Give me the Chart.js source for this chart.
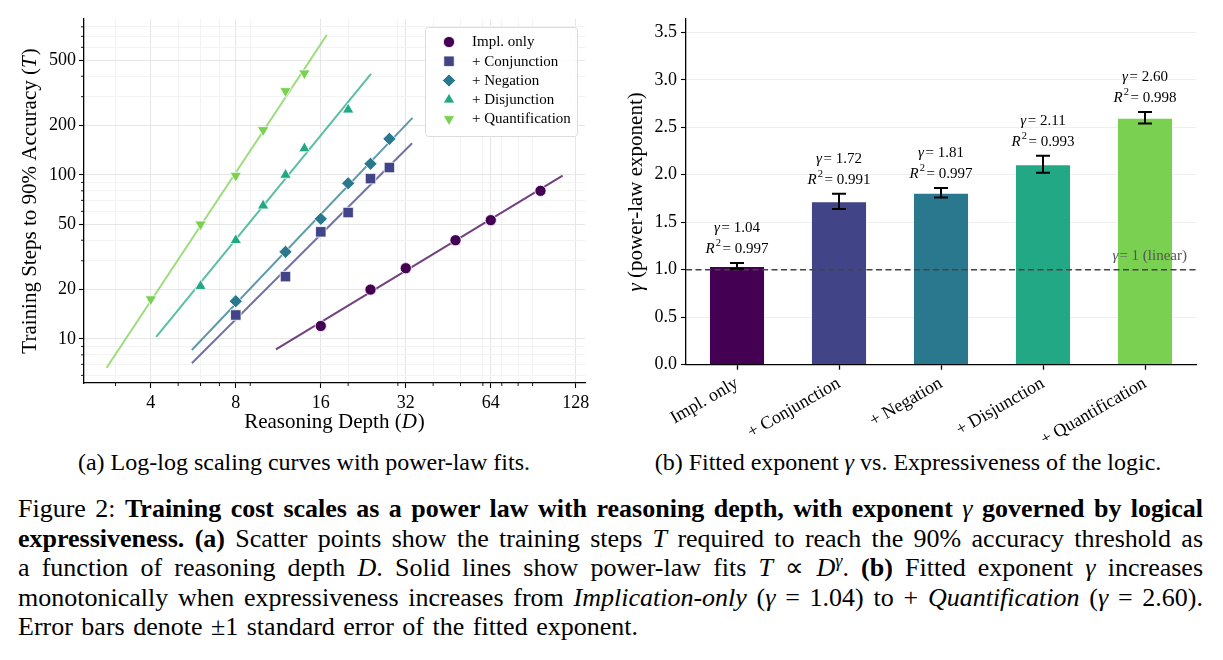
<!DOCTYPE html>
<html><head><meta charset="utf-8">
<script src="https://cdn.jsdelivr.net/npm/chart.js@4.4.1/dist/chart.umd.min.js"></script>
<style>
html,body{margin:0;padding:0;background:#fff;}
body{width:1223px;height:660px;position:relative;overflow:hidden;font-family:"Liberation Serif","Times New Roman",serif;color:#000;}
#cA{position:absolute;left:0;top:0;}
#cB{position:absolute;left:600px;top:0;}
.sub{position:absolute;top:449px;font-family:"Liberation Serif",serif;font-size:24px;line-height:26px;text-align:center;white-space:nowrap;}
.cap{position:absolute;left:18px;width:1185px;top:494px;font-family:"Liberation Serif",serif;font-size:26px;line-height:29.6px;}
.cap div{white-space:nowrap;}
.cap sup{font-size:0.7em;line-height:0;vertical-align:0.5em;}
.nb{font-weight:normal;}
</style>
</head><body>
<canvas id="cA" width="600" height="440"></canvas>
<canvas id="cB" width="623" height="440"></canvas>
<div class="sub" style="left:4px;width:600px;">(a) Log-log scaling curves with power-law fits.</div>
<div class="sub" style="left:608px;width:600px;">(b) Fitted exponent <i>γ</i> vs. Expressiveness of the logic.</div>
<div class="cap">
<div class="j">Figure 2: <b>Training cost scales as a power law with reasoning depth, with exponent <i class="nb">γ</i> governed by logical</b></div>
<div class="j"><b>expressiveness. (a)</b> Scatter points show the training steps <i>T</i> required to reach the 90% accuracy threshold as</div>
<div class="j">a function of reasoning depth <i>D</i>. Solid lines show power-law fits <i>T</i> ∝ <i>D</i><sup><i>γ</i></sup>. <b>(b)</b> Fitted exponent <i>γ</i> increases</div>
<div class="j">monotonically when expressiveness increases from <i>Implication-only</i> (<i>γ</i> = 1.04) to + <i>Quantification</i> (<i>γ</i> = 2.60).</div>
<div class="last" style="word-spacing:2px;">Error bars denote ±1 standard error of the fitted exponent.</div>
</div>
<script>
// justify caption lines to the full text width
(function(){
  const W = 1185;
  document.querySelectorAll('.cap .j').forEach(el => {
    el.style.display = 'inline-block';
    const w = el.getBoundingClientRect().width;
    const n = (el.textContent.match(/ /g) || []).length;
    if (n > 0) el.style.wordSpacing = ((W - w) / n) + 'px';
    el.style.display = 'block';
  });
})();

const FONT = '"Liberation Serif", "Times New Roman", serif';

// ---------- Panel (a) data ----------
const seriesNames = ['Impl. only', '+ Conjunction', '+ Negation', '+ Disjunction', '+ Quantification'];
const depthImpl  = [16, 24, 32, 48, 64, 96];
const stepsImpl  = [12, 20, 27, 40, 53, 80];
const depthConj  = [8, 12, 16, 20, 24, 28];
const stepsConj  = [14, 24, 45, 59, 95, 111];
const depthNeg   = [8, 12, 16, 20, 24, 28];
const stepsNeg   = [17, 34, 54, 89, 117, 166];
const depthDisj  = [6, 8, 10, 12, 14, 20];
const stepsDisj  = [21, 40, 65, 100, 145, 250];
const depthQuant = [4, 6, 8, 10, 12, 14];
const stepsQuant = [17.5, 50, 99, 188, 325, 417];
// power-law fit line end points [depth, steps]
const fitImpl  = [[11.1, 8.65], [115, 99]];
const fitConj  = [[5.59, 7.11], [33.7, 156]];
const fitNeg   = [[5.59, 8.57], [33.8, 223]];
const fitDisj  = [[4.18, 10.3], [24.1, 413]];
const fitQuant = [[2.79, 6.68], [16.8, 714]];
const depthTickLabels = [4, 8, 16, 32, 64, 128];
const depthMinorTicks = [3, 5, 6, 7, 9, 20, 30, 40, 50, 60, 70, 80, 90];
const stepTickLabels = [10, 20, 50, 100, 200, 500];
const stepMinorTicks = [6, 7, 8, 9, 30, 40, 60, 70, 80, 90, 300, 400, 600, 700, 800];

// ---------- Panel (b) data ----------
const categories = ['Impl. only', '+ Conjunction', '+ Negation', '+ Disjunction', '+ Quantification'];
const gammas   = [1.04, 1.72, 1.81, 2.11, 2.60];
const gammaErr = [0.03, 0.08, 0.05, 0.09, 0.06];
const r2Values = [0.997, 0.991, 0.997, 0.993, 0.998];
const gammaTickLabels = [0, 0.5, 1.0, 1.5, 2.0, 2.5, 3.0, 3.5];
const linearRef = 1;

// ---------- styles ----------
const colors = ['#440154', '#414487', '#2a788e', '#22a884', '#7ad151'];
const markers = [
  {pointStyle: 'circle', radius: 5.6, rotation: 0},
  {pointStyle: 'rect', radius: 7.4, rotation: 0},
  {pointStyle: 'rectRot', radius: 6.6, rotation: 0},
  {pointStyle: 'triangle', radius: 6.6, rotation: 0},
  {pointStyle: 'triangle', radius: 6.6, rotation: 180}
];
function hexA(h, a) {
  const r = parseInt(h.slice(1,3),16), g = parseInt(h.slice(3,5),16), b = parseInt(h.slice(5,7),16);
  return `rgba(${r},${g},${b},${a})`;
}
function richWidth(ctx, parts) {
  let w = 0;
  for (const p of parts) { ctx.font = p.f; w += ctx.measureText(p.t).width + (p.dx || 0); }
  return w;
}
function drawRich(ctx, parts, x, y, rot, align, color) {
  ctx.save();
  ctx.translate(x, y);
  if (rot) ctx.rotate(rot);
  const w = richWidth(ctx, parts);
  let cx = align === 'right' ? -w : (align === 'left' ? 0 : -w / 2);
  ctx.textBaseline = 'middle';
  ctx.textAlign = 'left';
  ctx.fillStyle = color || '#000';
  for (const p of parts) {
    ctx.font = p.f;
    ctx.fillText(p.t, cx, p.dy || 0);
    cx += ctx.measureText(p.t).width + (p.dx || 0);
  }
  ctx.restore();
}

// ---------- Panel (a) ----------
const depthSets = [depthImpl, depthConj, depthNeg, depthDisj, depthQuant];
const stepSets = [stepsImpl, stepsConj, stepsNeg, stepsDisj, stepsQuant];
const fitSets = [fitImpl, fitConj, fitNeg, fitDisj, fitQuant];

const datasetsA = [];
seriesNames.forEach((name, i) => {
  datasetsA.push({
    label: name,
    data: depthSets[i].map((d, k) => ({x: d, y: stepSets[i][k]})),
    backgroundColor: colors[i],
    borderColor: '#ffffff',
    borderWidth: 0.8,
    pointStyle: markers[i].pointStyle,
    pointRadius: markers[i].radius,
    rotation: markers[i].rotation,
    showLine: false,
    order: 0
  });
});
seriesNames.forEach((name, i) => {
  datasetsA.push({
    label: name + ' fit',
    data: fitSets[i].map(p => ({x: p[0], y: p[1]})),
    showLine: true,
    borderColor: hexA(colors[i], 0.75),
    borderWidth: 2,
    pointRadius: 0,
    fill: false,
    order: 1
  });
});

const decorA = {
  id: 'decorA',
  afterDraw(chart) {
    const ctx = chart.ctx, xs = chart.scales.x, ys = chart.scales.y, ca = chart.chartArea;
    ctx.save();
    ctx.strokeStyle = '#000'; ctx.lineWidth = 0.9;
    depthMinorTicks.forEach(v => {
      const px = xs.getPixelForValue(v);
      if (px < ca.left || px > ca.right) return;
      ctx.beginPath(); ctx.moveTo(px, ca.bottom); ctx.lineTo(px, ca.bottom + 3); ctx.stroke();
    });
    stepMinorTicks.forEach(v => {
      const py = ys.getPixelForValue(v);
      if (py < ca.top || py > ca.bottom) return;
      ctx.beginPath(); ctx.moveTo(ca.left - 3, py); ctx.lineTo(ca.left, py); ctx.stroke();
    });
    // legend
    const bx = ca.right - 160, by = ca.top + 8, bw = 152, bh = 109;
    ctx.fillStyle = 'rgba(255,255,255,0.85)';
    ctx.strokeStyle = '#dcdcdc'; ctx.lineWidth = 1;
    ctx.beginPath();
    if (ctx.roundRect) ctx.roundRect(bx + 0.5, by + 0.5, bw, bh, 3); else ctx.rect(bx + 0.5, by + 0.5, bw, bh);
    ctx.fill(); ctx.stroke();
    seriesNames.forEach((name, i) => {
      const yy = by + 15 + i * 19.25;
      ctx.fillStyle = colors[i]; ctx.strokeStyle = '#fff'; ctx.lineWidth = 0.8;
      Chart.helpers.drawPoint(ctx, {pointStyle: markers[i].pointStyle, radius: markers[i].radius, rotation: markers[i].rotation, borderWidth: 0.8}, bx + 24, yy);
      ctx.fillStyle = '#000'; ctx.font = '15px ' + FONT; ctx.textAlign = 'left'; ctx.textBaseline = 'middle';
      ctx.fillText(name, bx + 47, yy + 0.5);
    });
    ctx.restore();
    drawRich(ctx, [{t: 'Reasoning Depth (', f: '21px ' + FONT}, {t: 'D', f: 'italic 21px ' + FONT, dx: 1}, {t: ')', f: '21px ' + FONT}],
      (ca.left + ca.right) / 2, 422, 0, 'center');
    drawRich(ctx, [{t: 'Training Steps to 90% Accuracy (', f: '21px ' + FONT}, {t: 'T', f: 'italic 21px ' + FONT, dx: 1}, {t: ')', f: '21px ' + FONT}],
      30, (ca.top + ca.bottom) / 2, -Math.PI / 2, 'center');
  }
};

new Chart(document.getElementById('cA'), {
  type: 'scatter',
  data: {datasets: datasetsA},
  options: {
    responsive: false, animation: false,
    layout: {padding: {left: 0, top: 19, right: 15, bottom: 0}},
    plugins: {legend: {display: false}, tooltip: {enabled: false}},
    scales: {
      x: {
        type: 'logarithmic', min: 2.32, max: 138, position: 'bottom',
        afterBuildTicks: s => { s.ticks = depthTickLabels.concat(depthMinorTicks).sort((a, b) => a - b).map(v => ({value: v})); },
        afterFit: s => { s.height = 57; },
        ticks: {autoSkip: false, maxRotation: 0, minRotation: 0, padding: 4, color: '#000',
          font: {family: FONT, size: 18},
          callback: v => depthTickLabels.includes(v) ? String(v) : ''},
        grid: {
          color: c => (c.tick && depthTickLabels.includes(c.tick.value)) ? '#e6e6e6' : '#f3f3f3',
          lineWidth: 1, tickLength: 5,
          tickColor: c => (c.tick && depthTickLabels.includes(c.tick.value)) ? '#000' : 'rgba(0,0,0,0)',
          tickWidth: 1.1
        },
        border: {color: '#000', width: 1.3}
      },
      y: {
        type: 'logarithmic', min: 5.39, max: 893, position: 'left',
        afterBuildTicks: s => { s.ticks = stepTickLabels.concat(stepMinorTicks).sort((a, b) => a - b).map(v => ({value: v})); },
        afterFit: s => { s.width = 84; },
        ticks: {autoSkip: false, padding: 3, color: '#000',
          font: {family: FONT, size: 18},
          callback: v => stepTickLabels.includes(v) ? String(v) : ''},
        grid: {
          color: c => (c.tick && stepTickLabels.includes(c.tick.value)) ? '#e6e6e6' : '#f3f3f3',
          lineWidth: 1, tickLength: 5,
          tickColor: c => (c.tick && stepTickLabels.includes(c.tick.value)) ? '#000' : 'rgba(0,0,0,0)',
          tickWidth: 1.1
        },
        border: {color: '#000', width: 1.3}
      }
    }
  },
  plugins: [decorA]
});

// ---------- Panel (b) ----------
const decorB = {
  id: 'decorB',
  afterDatasetsDraw(chart) {
    const ctx = chart.ctx, ys = chart.scales.y, ca = chart.chartArea;
    const meta = chart.getDatasetMeta(0);
    ctx.save();
    const yRef = ys.getPixelForValue(linearRef);
    ctx.strokeStyle = '#444'; ctx.lineWidth = 1.5; ctx.setLineDash([6, 3.5]);
    ctx.beginPath(); ctx.moveTo(ca.left, yRef); ctx.lineTo(ca.right, yRef); ctx.stroke();
    ctx.setLineDash([]);
    drawRich(ctx, [{t: 'γ', f: 'italic 15px ' + FONT, dx: 1}, {t: '= 1 (linear)', f: '15px ' + FONT}], ca.right - 9, yRef - 14, 0, 'right', '#555');
    gammas.forEach((g, i) => {
      const x = meta.data[i].x;
      const yT = ys.getPixelForValue(g + gammaErr[i]);
      const yB = ys.getPixelForValue(g - gammaErr[i]);
      ctx.strokeStyle = '#000'; ctx.lineWidth = 2;
      ctx.beginPath();
      ctx.moveTo(x, yT); ctx.lineTo(x, yB);
      ctx.moveTo(x - 7, yT); ctx.lineTo(x + 7, yT);
      ctx.moveTo(x - 7, yB); ctx.lineTo(x + 7, yB);
      ctx.stroke();
      drawRich(ctx, [{t: 'γ', f: 'italic 15px ' + FONT, dx: 1.5}, {t: '= ' + g.toFixed(2), f: '15px ' + FONT}], x, yT - 35, 0, 'center');
      drawRich(ctx, [{t: 'R', f: 'italic 15px ' + FONT, dx: 1}, {t: '2', f: '10.5px ' + FONT, dy: -5.5, dx: 1.5}, {t: '= ' + r2Values[i].toFixed(3), f: '15px ' + FONT}], x, yT - 14, 0, 'center');
    });
    ctx.restore();
  },
  afterDraw(chart) {
    const ca = chart.chartArea;
    drawRich(chart.ctx, [{t: 'γ', f: 'italic 21px ' + FONT}, {t: ' (power-law exponent)', f: '21px ' + FONT}],
      36, (ca.top + ca.bottom) / 2, -Math.PI / 2, 'center');
  }
};

new Chart(document.getElementById('cB'), {
  type: 'bar',
  data: {
    labels: categories,
    datasets: [{
      data: gammas,
      backgroundColor: colors,
      borderColor: 'rgba(255,255,255,0.6)',
      borderWidth: 1,
      barPercentage: 0.55,
      categoryPercentage: 1
    }]
  },
  options: {
    responsive: false, animation: false,
    layout: {padding: {left: 0, top: 19, right: 27, bottom: 0}},
    plugins: {legend: {display: false}, tooltip: {enabled: false}},
    scales: {
      x: {
        afterFit: s => { s.height = 75.3; },
        ticks: {autoSkip: false, minRotation: 30, maxRotation: 30, padding: 3, color: '#000', font: {family: FONT, size: 18}},
        grid: {display: true, drawOnChartArea: false, offset: false, tickLength: 5, tickColor: '#000', tickWidth: 1.3},
        border: {color: '#000', width: 1.3}
      },
      y: {
        min: 0, max: 3.64,
        afterBuildTicks: s => { s.ticks = gammaTickLabels.map(v => ({value: v})); },
        afterFit: s => { s.width = 86; },
        ticks: {padding: 4, color: '#000', font: {family: FONT, size: 18}, callback: v => Number(v).toFixed(1)},
        grid: {color: '#efefef', lineWidth: 1, tickLength: 5, tickColor: '#000', tickWidth: 1.1},
        border: {color: '#000', width: 1.3}
      }
    }
  },
  plugins: [decorB]
});
</script>
</body></html>
